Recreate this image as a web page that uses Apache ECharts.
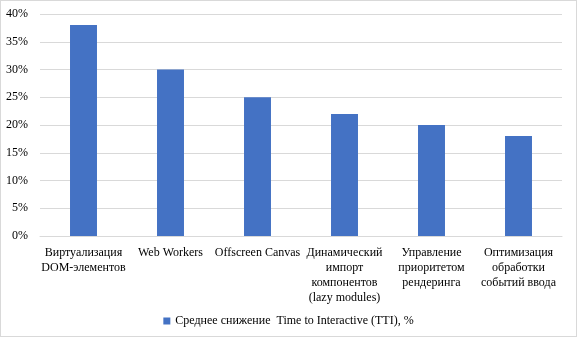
<!DOCTYPE html>
<html>
<head>
<meta charset="utf-8">
<script src="https://cdn.jsdelivr.net/npm/echarts@6/dist/echarts.min.js"></script>
<style>
  html, body { margin: 0; padding: 0; background: #fff; }
  #chart { width: 577px; height: 337px; box-sizing: border-box; border: 1px solid #d9d9d9; }
</style>
</head>
<body>
<div id="chart"></div>
<script>
const categories = [
  'Виртуализация\nDOM-элементов',
  'Web Workers',
  'Offscreen Canvas',
  'Динамический\nимпорт\nкомпонентов\n(lazy modules)',
  'Управление\nприоритетом\nрендеринга',
  'Оптимизация\nобработки\nсобытий ввода'
]
const ttiReduction = [38, 30, 25, 22, 20, 18]
const seriesName = 'Среднее снижение  Time to Interactive (TTI), %'

const font = '"Liberation Serif", "Times New Roman", serif'
const chart = echarts.init(document.getElementById('chart'), null, { renderer: 'canvas' })

chart.setOption({
  animation: false,
  textStyle: { fontFamily: font },
  grid: { left: 39, right: 14, top: 13, bottom: 100, containLabel: false },
  legend: {
    bottom: 4,
    left: 'center',
    itemWidth: 7,
    itemHeight: 7,
    itemGap: 4,
    icon: 'rect',
    textStyle: { fontFamily: font, fontSize: 12, color: '#000' },
    data: [seriesName]
  },
  xAxis: {
    type: 'category',
    data: categories,
    axisLine: { show: true, lineStyle: { color: '#d9d9d9' } },
    axisTick: { show: false },
    axisLabel: {
      interval: 0,
      margin: 9,
      fontFamily: font,
      fontSize: 12,
      lineHeight: 15,
      color: '#000'
    }
  },
  yAxis: {
    type: 'value',
    min: 0,
    max: 40,
    interval: 5,
    axisLine: { show: false },
    axisTick: { show: false },
    splitLine: { lineStyle: { color: '#d9d9d9', width: 1 } },
    axisLabel: {
      formatter: '{value}%',
      margin: 12,
      fontFamily: font,
      fontSize: 12,
      color: '#000'
    }
  },
  series: [
    {
      name: seriesName,
      type: 'bar',
      data: ttiReduction,
      barWidth: '31%',
      itemStyle: { color: '#4472c4' }
    }
  ]
})
</script>
</body>
</html>
